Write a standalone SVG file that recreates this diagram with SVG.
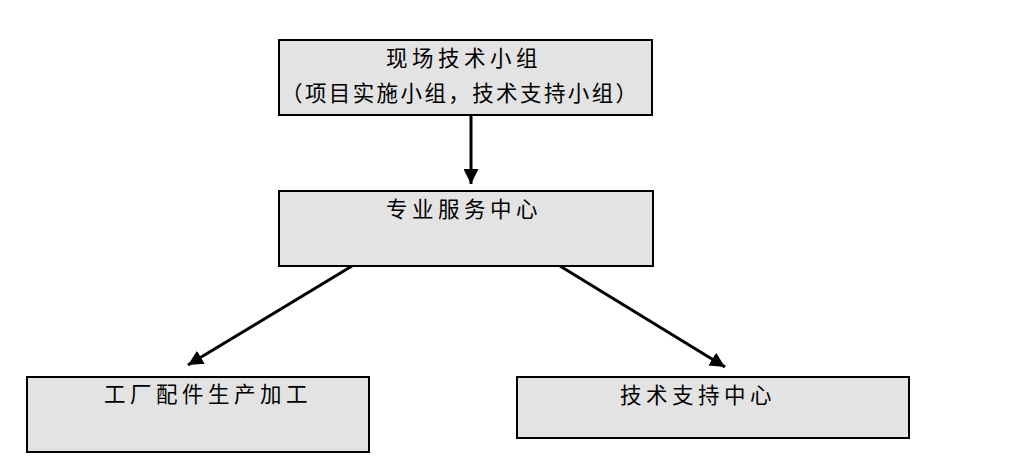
<svg xmlns="http://www.w3.org/2000/svg" width="1020" height="469" viewBox="0 0 1020 469">
<style>
.box{fill:#e3e3e3;stroke:#000;stroke-width:2}
.t{font-family:"Noto Sans CJK SC","Liberation Serif",sans-serif;font-size:21.5px;fill:#000;letter-spacing:4.5px}
.c{stroke:#000;stroke-width:3;fill:none}
</style>
<defs>
<marker id="ah" viewBox="0 0 10 10" refX="10" refY="5" markerWidth="5" markerHeight="5" orient="auto" markerUnits="strokeWidth">
<path d="M0,0 L10,5 L0,10 z" fill="#000"/>
</marker>
</defs>
<rect width="1020" height="469" fill="#fff"/>
<g id="connectors">
<line class="c" x1="471" y1="116" x2="471" y2="184" marker-end="url(#ah)"/>
<line class="c" x1="352" y1="266" x2="188" y2="365" marker-end="url(#ah)"/>
<line class="c" x1="560" y1="266" x2="725" y2="367" marker-end="url(#ah)"/>
</g>
<g id="n1">
<rect class="box" x="279" y="40" width="373" height="75"/>
<text class="t" x="386" y="66">现场技术小组</text>
<text class="t" x="281" y="101" style="letter-spacing:2.4px">（项目实施小组，技术支持小组）</text>
</g>
<g id="n2">
<rect class="box" x="279" y="191" width="374" height="75"/>
<text class="t" x="386" y="217">专业服务中心</text>
</g>
<g id="n3">
<rect class="box" x="27" y="377" width="342" height="75"/>
<text class="t" x="104" y="402">工厂配件生产加工</text>
</g>
<g id="n4">
<rect class="box" x="517" y="377" width="392" height="61"/>
<text class="t" x="620" y="403">技术支持中心</text>
</g>
</svg>
